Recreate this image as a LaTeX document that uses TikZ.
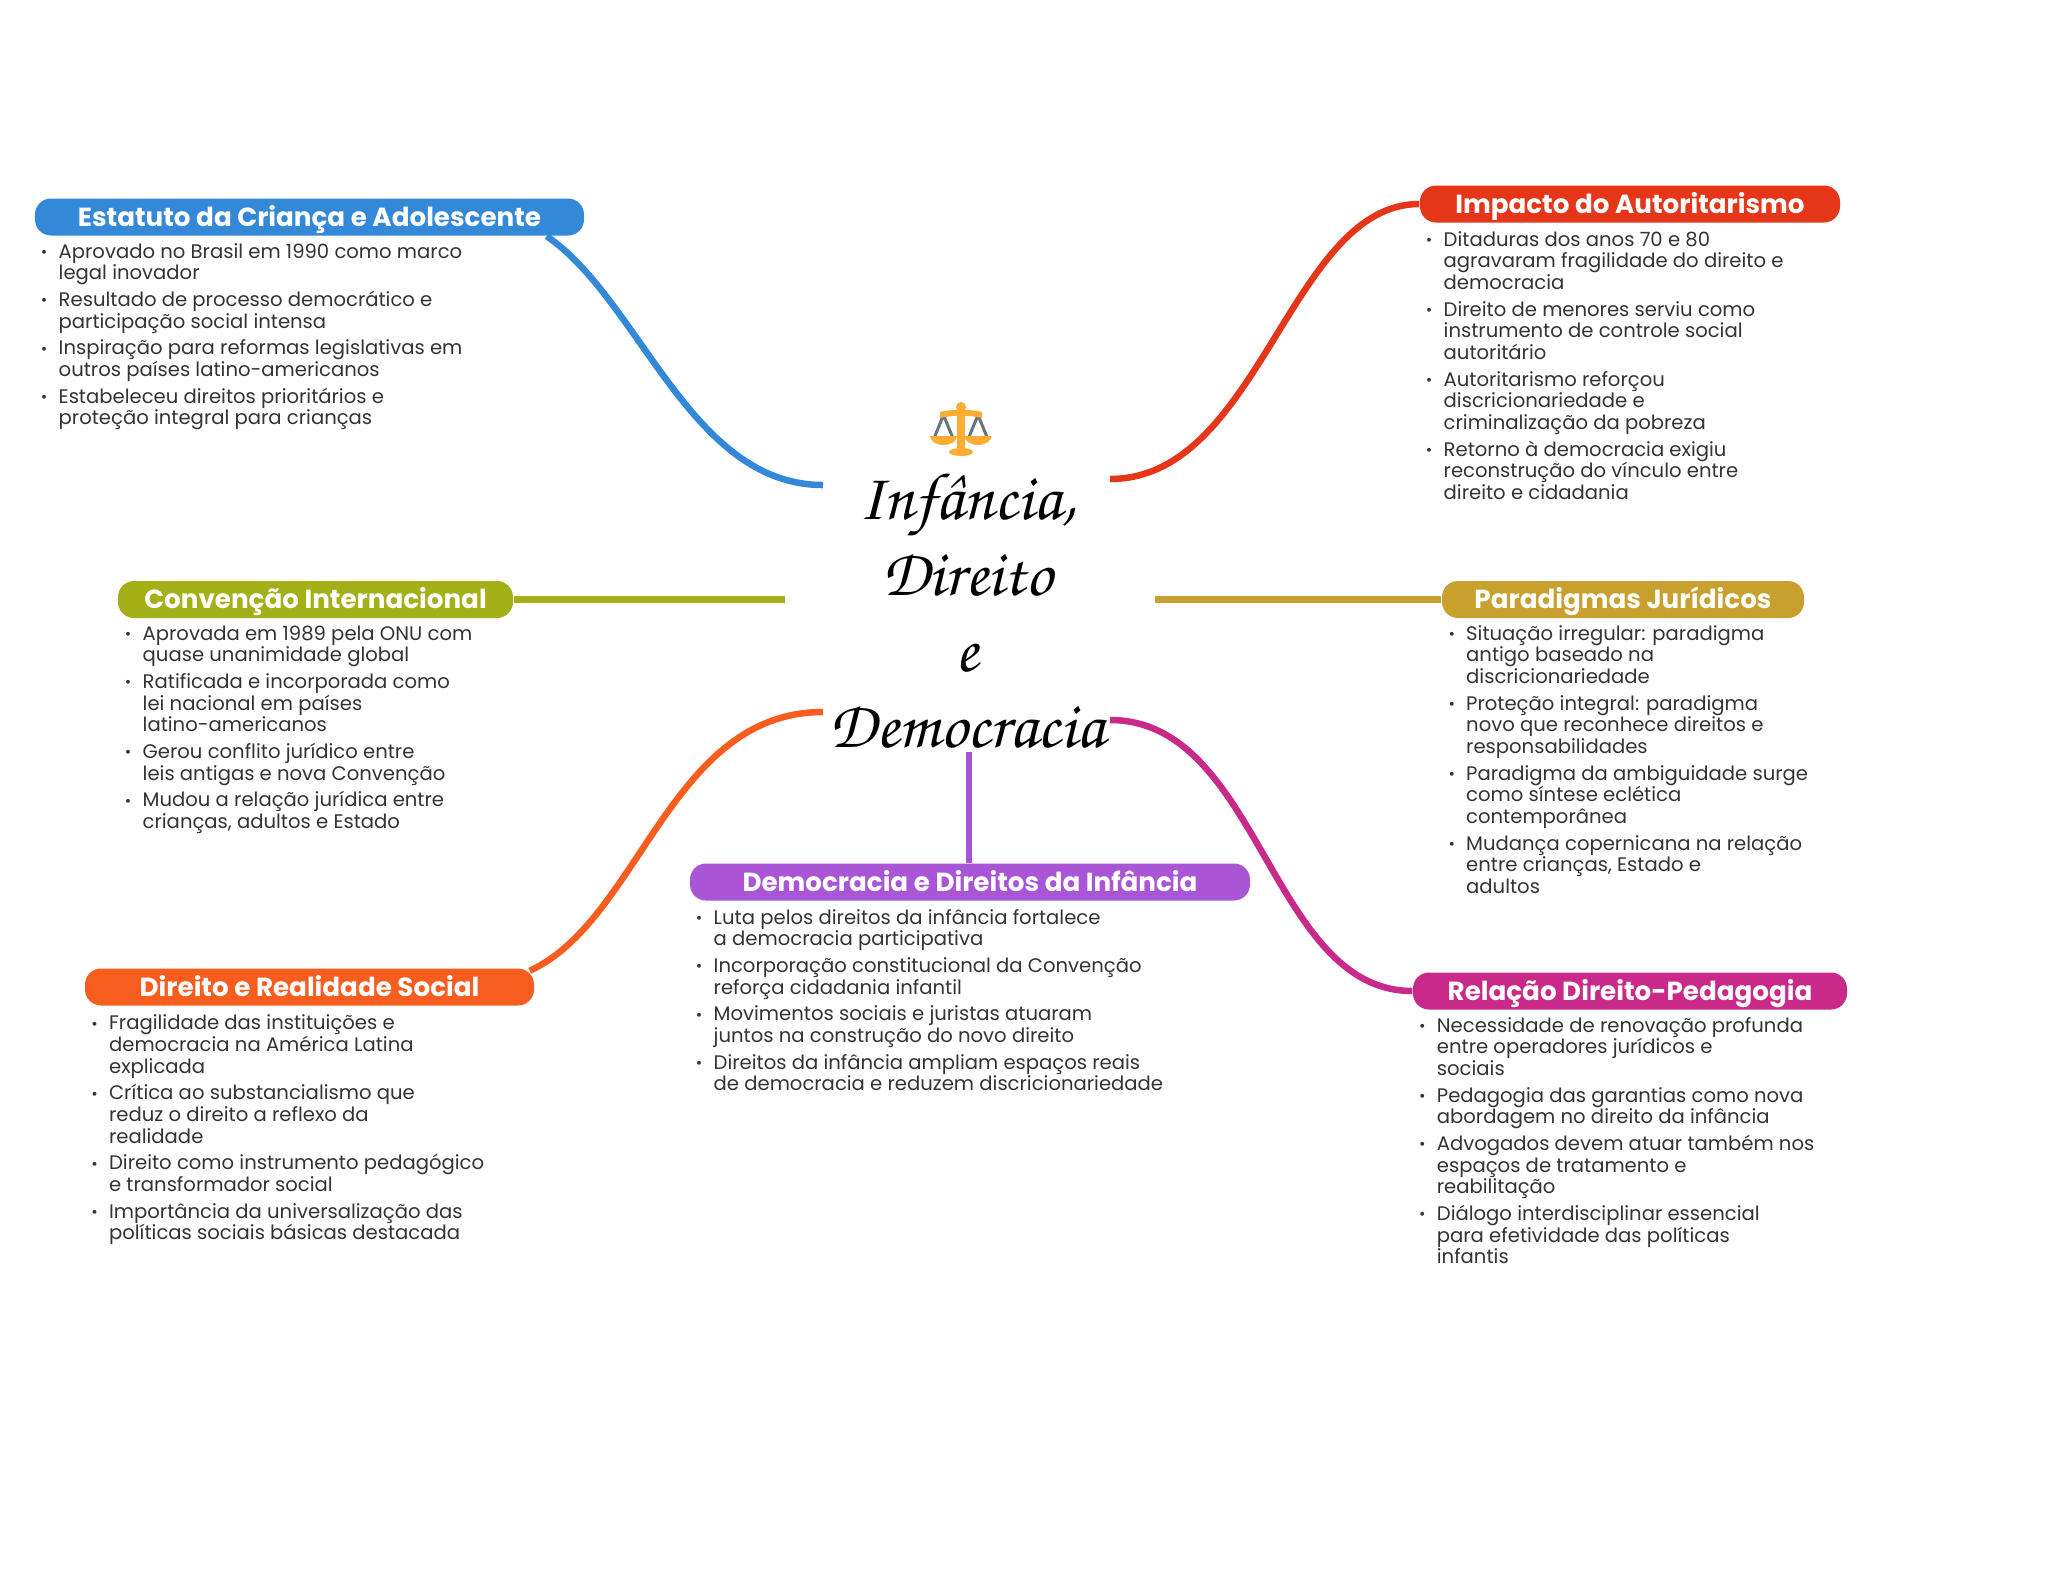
\documentclass[tikz,border=0pt]{standalone}
\usepackage[T1]{fontenc}
\usepackage{fontspec}
\setmainfont{Poppins}
\usetikzlibrary{backgrounds}
\definecolor{cblue}{HTML}{3388D8}
\definecolor{cred}{HTML}{E5361A}
\definecolor{colive}{HTML}{A3B018}
\definecolor{cgold}{HTML}{C8A02E}
\definecolor{corange}{HTML}{F85D20}
\definecolor{cpurple}{HTML}{A855D6}
\definecolor{cmagenta}{HTML}{C92A8A}
\definecolor{ctext}{HTML}{333333}
\definecolor{cscale}{HTML}{FFAC33}
\definecolor{cchain}{HTML}{66757F}
\newcommand{\bul}{\llap{\raisebox{0.2pt}{\scalebox{0.8}{•}}\hspace{3.2pt}}\rule{0pt}{4.4pt}}
\newcommand{\hubfont}{\fontencoding{T1}\fontfamily{pzc}\fontseries{m}\fontshape{it}\selectfont}
\begin{document}
\begin{tikzpicture}[
    pill/.style={rectangle, rounded corners=0.16cm, minimum height=0.37cm, inner sep=0pt, text=white,
        text height=6pt, text depth=0.8pt, font=\fontsize{7.45}{8}\selectfont\bfseries},
    txt/.style={anchor=north west, align=left, inner sep=0pt, text=ctext, font=\fontsize{5.58}{6.17}\selectfont},
    link/.style={line width=0.065cm}
]
\useasboundingbox (0,0) rectangle (20.48,-15.69);
\node[pill, fill=cblue, minimum width=5.49cm]    (estatuto)   at (3.095,-2.17) {Estatuto da Criança e Adolescente};
\node[pill, fill=cred, minimum width=4.20cm]     (impacto)    at (16.30,-2.04) {Impacto do Autoritarismo};
\node[pill, fill=colive, minimum width=3.95cm]   (convencao)  at (3.155,-5.995) {Convenção Internacional};
\node[pill, fill=cgold, minimum width=3.62cm]    (paradigmas) at (16.23,-5.995) {Paradigmas Jurídicos};
\node[pill, fill=corange, minimum width=4.49cm]  (realidade)  at (3.095,-9.87) {Direito e Realidade Social};
\node[pill, fill=cpurple, minimum width=5.60cm]  (democracia) at (9.70,-8.82) {Democracia e Direitos da Infância};
\node[pill, fill=cmagenta, minimum width=4.34cm] (pedagogia)  at (16.30,-9.91) {Relação Direito-Pedagogia};

\node[txt] (testatuto) at (0.58,-2.42) {\bul Aprovado no Brasil em 1990 como marco\\legal inovador\\[1.4pt]
    \bul Resultado de processo democrático e\\participação social intensa\\[1.4pt]
    \bul Inspiração para reformas legislativas em\\outros países latino-americanos\\[1.4pt]
    \bul Estabeleceu direitos prioritários e\\proteção integral para crianças};
\node[txt] (timpacto) at (14.43,-2.30) {\bul Ditaduras dos anos 70 e 80\\agravaram fragilidade do direito e\\democracia\\[1.4pt]
    \bul Direito de menores serviu como\\instrumento de controle social\\autoritário\\[1.4pt]
    \bul Autoritarismo reforçou\\discricionariedade e\\criminalização da pobreza\\[1.4pt]
    \bul Retorno à democracia exigiu\\reconstrução do vínculo entre\\direito e cidadania};
\node[txt] (tconvencao) at (1.42,-6.24) {\bul Aprovada em 1989 pela ONU com\\quase unanimidade global\\[1.4pt]
    \bul Ratificada e incorporada como\\lei nacional em países\\latino-americanos\\[1.4pt]
    \bul Gerou conflito jurídico entre\\leis antigas e nova Convenção\\[1.4pt]
    \bul Mudou a relação jurídica entre\\crianças, adultos e Estado};
\node[txt] (tparadigmas) at (14.655,-6.24) {\bul Situação irregular: paradigma\\antigo baseado na\\discricionariedade\\[1.4pt]
    \bul Proteção integral: paradigma\\novo que reconhece direitos e\\responsabilidades\\[1.4pt]
    \bul Paradigma da ambiguidade surge\\como síntese eclética\\contemporânea\\[1.4pt]
    \bul Mudança copernicana na relação\\entre crianças, Estado e\\adultos};
\node[txt] (trealidade) at (1.084,-10.136) {\bul Fragilidade das instituições e\\democracia na América Latina\\explicada\\[1.4pt]
    \bul Crítica ao substancialismo que\\reduz o direito a reflexo da\\realidade\\[1.4pt]
    \bul Direito como instrumento pedagógico\\e transformador social\\[1.4pt]
    \bul Importância da universalização das\\políticas sociais básicas destacada};
\node[txt] (tdemocracia) at (7.13,-9.08) {\bul Luta pelos direitos da infância fortalece\\a democracia participativa\\[1.4pt]
    \bul Incorporação constitucional da Convenção\\reforça cidadania infantil\\[1.4pt]
    \bul Movimentos sociais e juristas atuaram\\juntos na construção do novo direito\\[1.4pt]
    \bul Direitos da infância ampliam espaços reais\\de democracia e reduzem discricionariedade};
\node[txt] (tpedagogia) at (14.362,-10.16) {\bul Necessidade de renovação profunda\\entre operadores jurídicos e\\sociais\\[1.4pt]
    \bul Pedagogia das garantias como nova\\abordagem no direito da infância\\[1.4pt]
    \bul Advogados devem atuar também nos\\espaços de tratamento e\\reabilitação\\[1.4pt]
    \bul Diálogo interdisciplinar essencial\\para efetividade das políticas\\infantis};

\node[align=center, inner sep=0pt, font=\fontsize{19}{21.6}\selectfont\hubfont] (hub) at (9.67,-6.10)
    {Inf\^ancia,\\Direito\\e\\Democracia};

\coordinate (hubestatuto) at (8.23,-4.85);
\coordinate (hubimpacto) at (11.10,-4.79);
\coordinate (hubconvencao) at (7.85,-5.995);
\coordinate (hubparadigmas) at (11.55,-5.995);
\coordinate (hubrealidade) at (8.23,-7.12);
\coordinate (hubdemocracia) at (9.69,-7.52);
\coordinate (hubpedagogia) at (11.10,-7.20);

\begin{scope}[on background layer]
\draw[link, cblue] ([xshift=-0.38cm]estatuto.south east) .. controls (6.40,-3.00) and (6.90,-4.85) .. (hubestatuto);
\draw[link, cred] (impacto.west) .. controls (12.90,-2.04) and (12.60,-4.79) .. (hubimpacto);
\draw[link, colive] (convencao.east) -- (hubconvencao);
\draw[link, cgold] (paradigmas.west) -- (hubparadigmas);
\draw[link, corange] ([xshift=-0.05cm,yshift=-0.03cm]realidade.north east) .. controls (6.40,-9.20) and (6.70,-7.12) .. (hubrealidade);
\draw[link, cpurple] (democracia.north -| hubdemocracia) -- (hubdemocracia);
\draw[link, cmagenta] (pedagogia.west) .. controls (12.70,-9.91) and (12.60,-7.20) .. (hubpedagogia);
\end{scope}

\fill[cscale] (9.57,-4.06) rectangle (9.65,-4.50);
\fill[cscale] (9.61,-4.07) circle (0.05);
\foreach \px in {9.435,9.78}{
    \draw[cchain, line width=0.03cm] (\px-0.09,-4.37) -- (\px,-4.15) -- (\px+0.09,-4.37);
    \fill[cscale] (\px-0.135,-4.36) -- (\px+0.135,-4.36) arc[start angle=0, end angle=-180, x radius=0.135, y radius=0.09] -- cycle;
}
\fill[cscale] (9.40,-4.12) .. controls (9.52,-4.09) and (9.70,-4.09) .. (9.82,-4.12) -- (9.82,-4.18) .. controls (9.70,-4.15) and (9.52,-4.15) .. (9.40,-4.18) -- cycle;
\fill[cscale] (9.61,-4.52) ellipse (0.12 and 0.04);
\end{tikzpicture}
\end{document}
